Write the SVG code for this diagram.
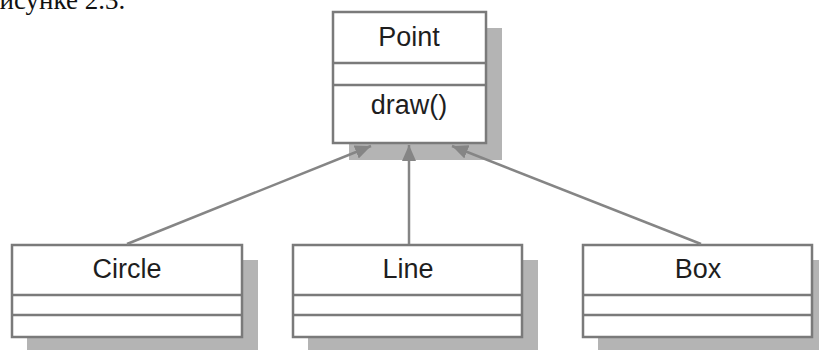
<svg xmlns="http://www.w3.org/2000/svg" width="819" height="350" viewBox="0 0 819 350">
  <style>
    .shadow { fill: #b4b4b4; }
    .box { fill: #ffffff; stroke: #7a7a7a; stroke-width: 2.5; }
    .div { stroke: #7a7a7a; stroke-width: 2.5; }
    .lbl { font-family: "Liberation Sans", Arial, sans-serif; font-size: 27px; fill: #1e1e1e; text-anchor: middle; }
    .conn { stroke: #858585; stroke-width: 2.5; fill: none; marker-end: url(#arr); }
  </style>
  <defs>
    <marker id="arr" markerUnits="userSpaceOnUse" markerWidth="18" markerHeight="14" refX="16" refY="7" orient="auto">
      <path d="M0,0 L16,7 L0,14 Z" fill="#858585"/>
    </marker>
  </defs>
  <rect width="819" height="350" fill="#ffffff"/>
  <text x="-14" y="9" font-family="Liberation Serif, serif" font-size="27" fill="#111111">рисунке 2.3.</text>

  <g id="point">
    <rect class="shadow" x="349" y="28" width="153" height="132"/>
    <rect class="box" x="333" y="12" width="153" height="131"/>
    <line class="div" x1="333" y1="63" x2="486" y2="63"/>
    <line class="div" x1="333" y1="85" x2="486" y2="85"/>
    <text class="lbl" x="409" y="46">Point</text>
    <text class="lbl" x="409" y="114">draw()</text>
  </g>

  <g id="circle">
    <rect class="shadow" x="27" y="260" width="231" height="95"/>
    <rect class="box" x="12" y="245" width="230" height="92"/>
    <line class="div" x1="12" y1="295" x2="242" y2="295"/>
    <line class="div" x1="12" y1="315" x2="242" y2="315"/>
    <text class="lbl" x="127" y="278">Circle</text>
  </g>

  <g id="line">
    <rect class="shadow" x="308" y="260" width="230" height="95"/>
    <rect class="box" x="293" y="245" width="229" height="92"/>
    <line class="div" x1="293" y1="295" x2="522" y2="295"/>
    <line class="div" x1="293" y1="315" x2="522" y2="315"/>
    <text class="lbl" x="408" y="278">Line</text>
  </g>

  <g id="box">
    <rect class="shadow" x="598" y="260" width="230" height="95"/>
    <rect class="box" x="583" y="245" width="229" height="92"/>
    <line class="div" x1="583" y1="295" x2="812" y2="295"/>
    <line class="div" x1="583" y1="315" x2="812" y2="315"/>
    <text class="lbl" x="698" y="278">Box</text>
  </g>

  <g id="connectors">
    <line class="conn" x1="127" y1="244" x2="371" y2="146"/>
    <line class="conn" x1="409" y1="244" x2="409" y2="145"/>
    <line class="conn" x1="701" y1="244" x2="452" y2="146"/>
  </g>
</svg>
